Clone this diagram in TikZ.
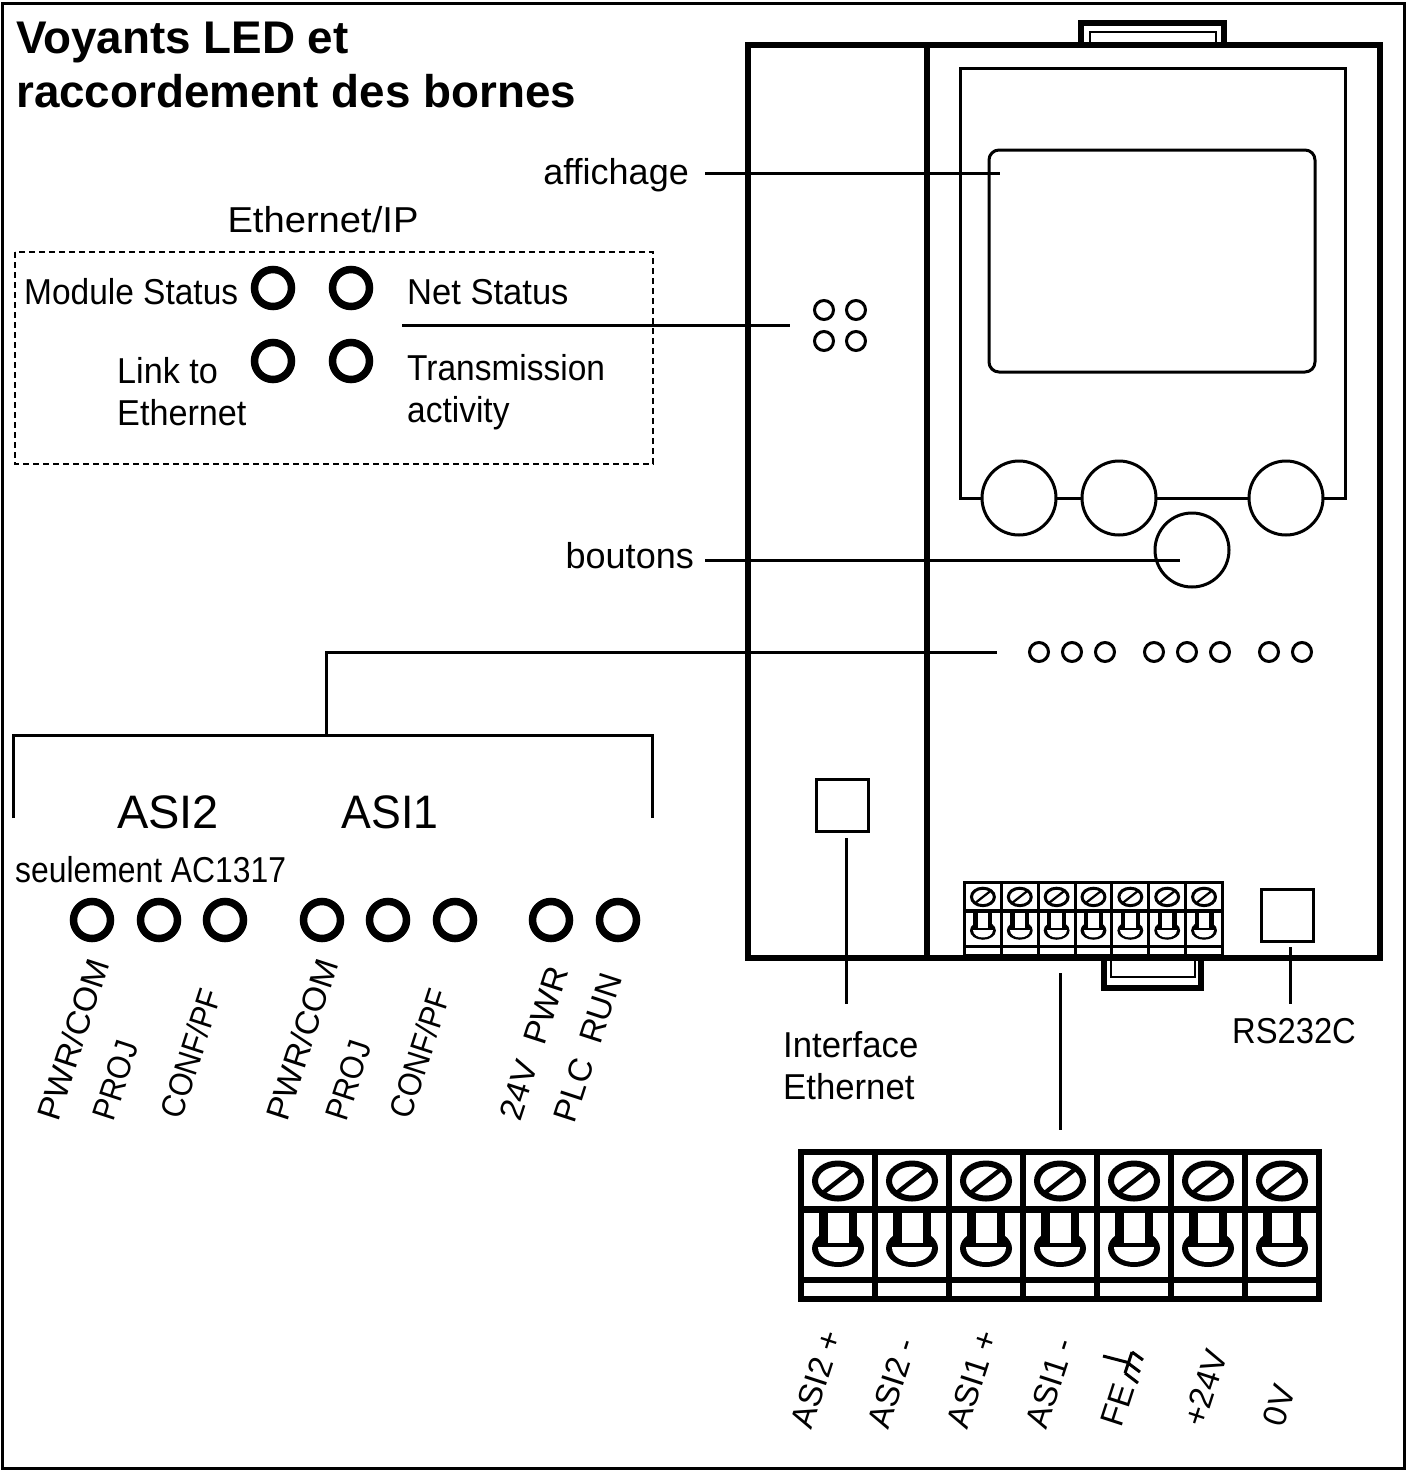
\documentclass[tikz,border=0pt]{standalone}
\usepackage{fontspec}
\setmainfont{Liberation Sans}
\tikzset{
  thinline/.style={line width=3pt,black},
  thick box/.style={line width=6pt,black},
  led/.style={circle,draw,line width=7.5pt,minimum size=37pt,inner sep=0pt,fill=white},
  smallled/.style={circle,draw,line width=3pt,minimum size=19pt,inner sep=0pt,fill=white},
  btn/.style={circle,draw,line width=3pt,minimum size=74pt,inner sep=0pt,fill=white},
  squarebox/.style={draw,line width=3pt,minimum size=52pt,inner sep=0pt},
  lab/.style={inner sep=0pt,font=\fontsize{36}{42}\selectfont,align=left},
  biglab/.style={inner sep=0pt,font=\fontsize{47}{50}\selectfont},
  ttl/.style={inner sep=0pt,font=\fontsize{45.8}{54}\selectfont\bfseries,align=left},
  rot/.style={inner sep=0pt,rotate=72,anchor=west,font=\fontsize{33}{36}\selectfont},
}
% terminal block: left, top, scale
\newcommand{\terminalblock}[3]{%
\begin{scope}[shift={(#1,#2)},x=#3pt,y=-#3pt]
  \fill[black] (0,0) rectangle (524,153);
  \foreach \i in {0,...,6}{
    \pgfmathsetmacro{\xl}{\i*74+6}
    \pgfmathsetmacro{\xr}{(\i+1)*74}
    \pgfmathsetmacro{\cx}{(\i+0.5)*74+3}
    \fill[white] (\xl,6) rectangle (\xr,57);
    \fill[white] (\xl,64) rectangle (\xr,128);
    \fill[white] (\xl,134) rectangle (\xr,147);
    \draw[line width=#3*6pt,fill=white] (\cx,32) ellipse[x radius=23*#3pt,y radius=17.5*#3pt];
    \draw[line width=#3*4.5pt] (\cx-14,43) -- (\cx+14,21);
    \fill[black] (\cx,99.5) ellipse[x radius=26*#3pt,y radius=18.5*#3pt];
    \fill[black] (\cx-19,60) rectangle (\cx+19,99);
    \fill[white] (\cx-10.5,64) rectangle (\cx+10.5,94);
    \fill[white] (\cx-20,98) .. controls (\cx-20,118) and (\cx+20,118) .. (\cx+20,98) -- cycle;
  }
\end{scope}}
\begin{document}
\begin{tikzpicture}[x=1pt,y=-1pt]
\useasboundingbox (0,0) rectangle (1406,1473);
\draw[line width=3pt] (2,3) rectangle (1404,1468);
% title
\node[ttl,anchor=north west] (title) at (16,22) {Voyants LED et\\raccordement des bornes};
% top and bottom clips
\draw[line width=6pt] (1081,45) |- (1224,23) -- (1224,45);
\draw[line width=2.5pt] (1090,45) |- (1216,32) -- (1216,45);
\draw[line width=6pt] (1104,958) |- (1201,988) -- (1201,958);
\draw[line width=2.5pt] (1111,958) |- (1195,977) -- (1195,958);
% device
\draw[thick box] (748,45) rectangle (1380,958);
\draw[thick box] (927,45) -- (927,958);
\draw[thinline] (960,498) |- (1345,68) -- (1345,498) -- cycle;
\draw[thinline,rounded corners=10pt] (989,150) rectangle (1315,372);
\node[btn] (b1) at (1019,498) {};
\node[btn] (b2) at (1119,498) {};
\node[btn] (b3) at (1286,498) {};
\node[btn] (b4) at (1192,550) {};
\foreach \n/\x/\y in {p1/824/310,p2/856/310,p3/824/341,p4/856/341}
  \node[smallled] (\n) at (\x,\y) {};
\foreach \n/\x in {r1/1039,r2/1072,r3/1105,r4/1154,r5/1187,r6/1220,r7/1269,r8/1302}
  \node[smallled] (\n) at (\x,652) {};
\node[squarebox] (eth) at (842,805) {};
\node[squarebox] (rs) at (1287,915) {};
\terminalblock{963}{881}{0.498}
\terminalblock{798}{1149}{1}
% dashed box
\draw[line width=2pt,dashed,dash pattern=on 6pt off 4pt] (15,252) rectangle (653,464);
\node[lab,anchor=base,xscale=1.06] (ethip) at (323,232) {Ethernet/IP};
\node[led] (l1) at (273,288) {};
\node[led] (l2) at (351,288) {};
\node[led] (l3) at (273,361) {};
\node[led] (l4) at (351,361) {};
\node[lab,anchor=base west,xscale=.93] (t1) at (24,304) {Module Status};
\node[lab,anchor=base west,xscale=.96] (t2) at (407,304) {Net Status};
\node[lab,anchor=north west,xscale=.95] (t3) at (117,357) {Link to\\Ethernet};
\node[lab,anchor=north west,xscale=.93] (t4) at (407,354) {Transmission\\activity};
% labels and leaders
\node[lab,anchor=base east] (aff) at (689,184) {affichage};
\node[lab,anchor=base east] (bou) at (694,568) {boutons};
\coordinate (aff1) at (705,173); \coordinate (aff2) at (1000,173);
\draw[thinline] (aff1) -- (aff2);
\coordinate (bou1) at (705,560); \coordinate (bou2) at (1180,560);
\draw[thinline] (bou1) -- (bou2);
\coordinate (led1) at (402,325); \coordinate (led2) at (790,325);
\draw[thinline] (led1) -- (led2);
% bracket
\coordinate (br0) at (326,735); \coordinate (br1) at (997,652);
\coordinate (brl) at (13,818); \coordinate (brr) at (652,818);
\draw[thinline] (br0) |- (br1);
\draw[thinline] (brl) |- (brr |- br0) -- (brr);
\node[biglab,anchor=base] (asi2) at (168,828) {ASI2};
\node[biglab,anchor=base,xscale=.95] (asi1) at (390,828) {ASI1};
\node[lab,anchor=base west,xscale=.885] (seul) at (15,882) {seulement AC1317};
\foreach \n/\x in {a1/92,a2/159,a3/225,a4/322,a5/388,a6/455,a7/551,a8/618}
  \node[led] (\n) at (\x,920) {};
\node[rot,xscale=1.02] (x1) at (47,1119) {PWR/COM};
\node[rot,xscale=.92] (x2) at (103,1119) {PROJ};
\node[rot,xscale=.92] (x3) at (170,1117) {CONF/PF};
\node[rot,xscale=1.02] (x4) at (276,1119) {PWR/COM};
\node[rot,xscale=.92] (x5) at (336,1119) {PROJ};
\node[rot,xscale=.92] (x6) at (399,1117) {CONF/PF};
\node[rot,xscale=1.03] (x7) at (509,1119) {24V\ \ PWR};
\node[rot] (x8) at (564,1121) {PLC\ \ RUN};
% connectors below
\coordinate (eth1) at (846,838); \coordinate (eth2) at (846,1004);
\draw[thinline] (eth1) -- (eth2);
\coordinate (rs1) at (1290,947); \coordinate (rs2) at (1290,1004);
\draw[thinline] (rs1) -- (rs2);
\coordinate (tb1) at (1060,973); \coordinate (tb2) at (1060,1130);
\draw[thinline] (tb1) -- (tb2);
\node[lab,anchor=north west,xscale=.965] (ie) at (783,1031) {Interface\\Ethernet};
\node[lab,anchor=base,xscale=.91] (rst) at (1294,1043) {RS232C};
% terminal labels
\node[rot] (k1) at (801,1427) {ASI2 +};
\node[rot] (k2) at (878,1427) {ASI2 -};
\node[rot] (k3) at (957,1427) {ASI1 +};
\node[rot] (k4) at (1036,1427) {ASI1 -};
\node[rot] (k5) at (1111,1425) {FE};
\node[rot] (k6) at (1193,1425) {+24V};
\node[rot] (k7) at (1273,1425) {0V};
% earth symbol
\draw[line width=3pt] (1103,1356) -- (1130,1363);
\draw[line width=3pt] (1132,1352) -- (1125,1373);
\draw[line width=3pt] (1132,1352) -- (1143,1360);
\draw[line width=3pt] (1128,1363) -- (1140,1372);
\draw[line width=3pt] (1125,1373) -- (1138,1383);
\end{tikzpicture}
\end{document}
